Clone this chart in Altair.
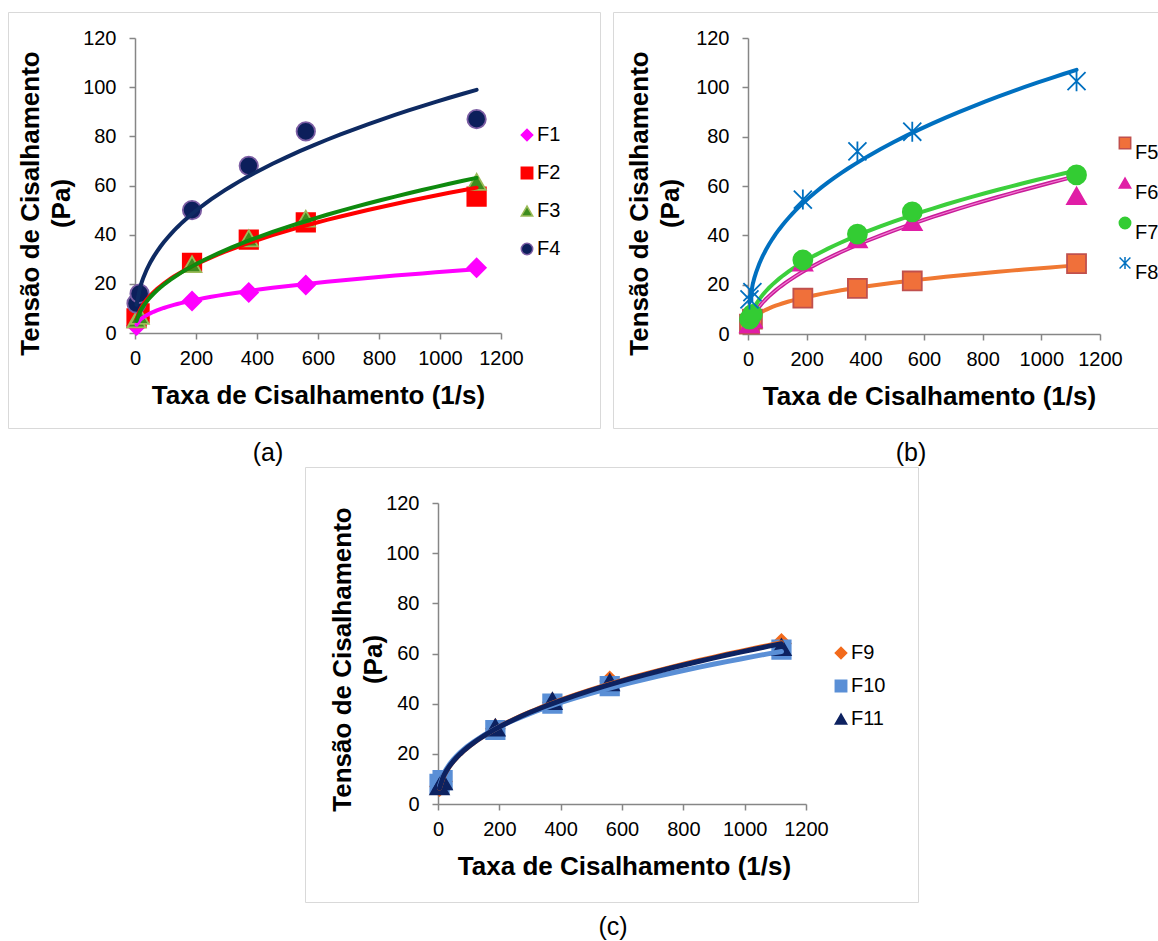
import altair as alt
import pandas as pd

W, H = 1158, 941
FONT = "Liberation Sans"

# shear rate (1/s) used for every formulation
shear_rate = [5, 15, 187, 373, 560, 1120]

# shear stress (Pa), panel (a)
f1 = [3, 6, 13, 16.5, 19.5, 26.5]
f2 = [6, 8, 28.5, 38, 45, 55.5]
f3 = [5.5, 7, 28, 38.5, 46.5, 61.5]
f4 = [12, 16, 50, 68, 82, 87]

# shear stress (Pa), panel (b)
f5 = [4, 6, 14.5, 18.5, 21.5, 28.5]
f6 = [4, 6, 29, 38.5, 45.5, 56]
f7 = [6, 8, 30, 40.5, 49.5, 64.5]
f8 = [14, 17, 54.5, 74, 82, 102.5]

# shear stress (Pa), panel (c)
f9 = [7, 9, 30, 40.5, 49, 64]
f10 = [8, 9.5, 29.5, 40, 47, 61.5]
f11 = [7, 9, 30.5, 41, 48.5, 62.5]

x_ticks = [0, 200, 400, 600, 800, 1000, 1200]
y_ticks = [0, 20, 40, 60, 80, 100, 120]
x_label = "Taxa de Cisalhamento (1/s)"
y_label = ["Tensão de Cisalhamento", "(Pa)"]
captions = ["(a)", "(b)", "(c)"]

ASTERISK = "M-0.95,-0.95L0.95,0.95M-0.95,0.95L0.95,-0.95M0,-1.05L0,1.05"
AXIS_GREY = "#868686"


def long_table(names, series):
    rows = []
    for n, vals in zip(names, series):
        for xv, yv in zip(shear_rate, vals):
            rows.append({"s": n, "x": xv, "y": yv})
    return pd.DataFrame(rows)


def panel(names, series, fills, strokes, shapes, line_colors, frame, leg,
          size=340, lines_on_top=True, line_width=4, highlights=None):
    px0, px1, py0, py1, ytx, yty, xtx, xty = frame
    lx, ly, rp, lb = leg
    df = long_table(names, series)

    x_enc = alt.X(
        "x:Q",
        scale=alt.Scale(domain=[0, 1200], range=[px0, px1], nice=False, zero=False),
        axis=alt.Axis(
            orient="bottom", offset=py0 - H, values=x_ticks, grid=False, format="d",
            title=x_label, titleX=xtx, titleY=xty, titleBaseline="middle",
            labelFlush=False, labelOverlap=False, tickSize=6, labelPadding=9,
            labelFont=FONT, labelFontSize=20,
        ),
    )
    y_enc = alt.Y(
        "y:Q",
        scale=alt.Scale(domain=[0, 120], range=[py0, py1], nice=False, zero=False),
        axis=alt.Axis(
            orient="left", offset=-px0, values=y_ticks, grid=False, format="d",
            title=y_label, titleX=ytx, titleY=yty, titleBaseline="middle",
            titleAngle=270, titleLineHeight=31,
            labelFlush=False, labelOverlap=False, tickSize=6, labelPadding=13,
            labelFont=FONT, labelFontSize=20,
        ),
    )
    legend = alt.Legend(
        orient="none", legendX=lx, legendY=ly, title=None, rowPadding=rp,
        labelBaseline=lb, symbolSize=130, symbolStrokeWidth=1.5, labelOffset=0,
        labelFontSize=20, labelFont=FONT, labelColor="black", padding=0,
    )

    points = alt.Chart(df).mark_point(
        filled=True, size=size, strokeWidth=1.8, opacity=1
    ).encode(
        x=x_enc,
        y=y_enc,
        fill=alt.Fill("s:N", sort=names, scale=alt.Scale(domain=names, range=fills), legend=legend),
        stroke=alt.Stroke("s:N", sort=names, scale=alt.Scale(domain=names, range=strokes), legend=legend),
        shape=alt.Shape("s:N", sort=names, scale=alt.Scale(domain=names, range=shapes), legend=legend),
    )

    def fit(name, color, width):
        return (
            alt.Chart(df)
            .transform_filter(alt.datum.s == name)
            .transform_regression("x", "y", method="pow")
            .mark_line(color=color, strokeWidth=width, strokeCap="round")
            .encode(x=x_enc, y=y_enc)
        )

    fits = []
    for n, c in zip(names, line_colors):
        fits.append(fit(n, c, line_width))
        if highlights and n in highlights:
            # lighter core stroke drawn along the same power-law fit
            fits.append(fit(n, highlights[n], 1.2))

    layers = [points] + fits if lines_on_top else fits + [points]
    return alt.layer(*layers)


panel_a = panel(
    ["F1", "F2", "F3", "F4"], [f1, f2, f3, f4],
    fills=["#ff00ff", "#ff0000", "#3d8c1e", "#0c1f5b"],
    strokes=["#ff00ff", "#ff0000", "#9bbb59", "#7c5ea4"],
    shapes=["diamond", "square", "triangle-up", "circle"],
    line_colors=["#ff00ff", "#ff0000", "#0e8a0e", "#0e2a62"],
    frame=(135, 501, 333, 38, -105, 203, 318, 62),
    leg=(517, 125, 18, "middle"),
)

panel_b = panel(
    ["F5", "F6", "F7", "F8"], [f5, f6, f7, f8],
    fills=["#f0703a", "#e01ea6", "#33cc33", "#0070c0"],
    strokes=["#c0504d", "#e01ea6", "#33cc33", "#0070c0"],
    shapes=["square", "triangle-up", "circle", ASTERISK],
    line_colors=["#f07832", "#c81c98", "#3ccf3c", "#0070c0"],
    frame=(748, 1100, 334, 38, -109, 203, 929, 62),
    leg=(1115, 133, 10, "top"),
    size=360,
    lines_on_top=False,
    highlights={"F6": "#f27ad2"},
)

panel_c = panel(
    ["F9", "F10", "F11"], [f9, f10, f11],
    fills=["#f26a1b", "#5a8fd6", "#0d2260"],
    strokes=["#f26a1b", "#5a8fd6", "#0d2260"],
    shapes=["diamond", "square", "triangle-up"],
    line_colors=["#f26a1b", "#5a8fd6", "#0d2260"],
    frame=(438, 806, 804, 503, -96, 659, 624, 62),
    leg=(831, 643, 13, "middle"),
    line_width=5,
)

one = alt.Data(values=[{}])


def frame_box(x0, x1, y0, y1):
    return alt.Chart(one).mark_rect(
        filled=False, stroke="#d9d9d9", strokeWidth=1
    ).encode(x=alt.value(x0), x2=alt.value(x1), y=alt.value(y0), y2=alt.value(y1))


def caption(text, x, y):
    return alt.Chart(one).mark_text(
        text=text, font=FONT, fontSize=25, color="black", baseline="middle", align="center"
    ).encode(x=alt.value(x), y=alt.value(y))


boxes = [
    frame_box(8.5, 600.5, 12.5, 428.5),
    frame_box(613.5, 1170, 12.5, 428.5),
    frame_box(305.5, 918.5, 467.5, 902.5),
]
labels = [
    caption(captions[0], 268, 453),
    caption(captions[1], 911, 453),
    caption(captions[2], 613, 927),
]

chart = (
    alt.layer(*boxes, *labels, panel_a, panel_b, panel_c)
    .resolve_scale(x="independent", y="independent", fill="independent",
                   stroke="independent", shape="independent")
    .resolve_axis(x="independent", y="independent")
    .resolve_legend(fill="independent", stroke="independent", shape="independent")
    .properties(width=W, height=H, padding=0,
                autosize=alt.AutoSizeParams(type="none"), background="white")
    .configure_view(strokeWidth=0)
    .configure_axis(
        labelFont=FONT, labelFontSize=20, labelColor="black",
        titleFont=FONT, titleFontSize=26, titleFontWeight="bold", titleColor="black",
        domainColor=AXIS_GREY, tickColor=AXIS_GREY, domainWidth=1.5, tickWidth=1.5,
    )
)

chart.save("out.html", embed_options={"renderer": "svg", "actions": False})
